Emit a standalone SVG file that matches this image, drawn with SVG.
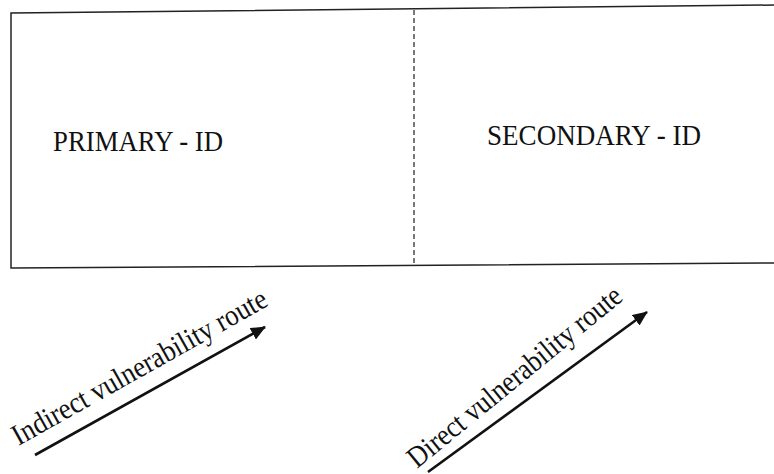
<svg xmlns="http://www.w3.org/2000/svg" width="774" height="474" viewBox="0 0 774 474">
  <defs>
    <style>
      .frame { fill: none; stroke: #222; stroke-width: 1.5; }
      .divider { fill: none; stroke: #333; stroke-width: 1.3; stroke-dasharray: 5 3; }
      .label { font-family: "Liberation Serif", "Times New Roman", serif; fill: #111; }
      .route { stroke: #111; stroke-width: 2.6; fill: none; marker-end: url(#head); }
    </style>
    <marker id="head" markerWidth="15" markerHeight="13" refX="14" refY="6.5" orient="auto" markerUnits="userSpaceOnUse">
      <path d="M0,0 L15,6.5 L0,13 Z" fill="#111"/>
    </marker>
  </defs>
  <rect width="774" height="474" fill="#fff"/>

  <!-- outer frame, open on the right -->
  <g id="frame">
    <path class="frame" d="M774,5 L11,13 L11,268 L774,263"/>
  </g>

  <g id="primary">
    <text class="label" x="53" y="151" font-size="28.5" textLength="170" lengthAdjust="spacingAndGlyphs">PRIMARY - ID</text>
  </g>

  <g id="secondary">
    <path class="divider" d="M414,10 L414,265"/>
    <text class="label" x="487" y="145" font-size="28.5" textLength="214" lengthAdjust="spacingAndGlyphs">SECONDARY - ID</text>
  </g>

  <g id="connectors">
    <line class="route" x1="35" y1="455" x2="265" y2="327"/>
    <line class="route" x1="428" y1="472" x2="647" y2="312"/>
  </g>

  <g id="route-labels">
    <text class="label" font-size="30" transform="translate(18.5,446) rotate(-29.3)" textLength="288" lengthAdjust="spacingAndGlyphs">Indirect vulnerability route</text>
    <text class="label" font-size="30" transform="translate(417,469) rotate(-39.3)" textLength="268" lengthAdjust="spacingAndGlyphs">Direct vulnerability route</text>
  </g>
</svg>
